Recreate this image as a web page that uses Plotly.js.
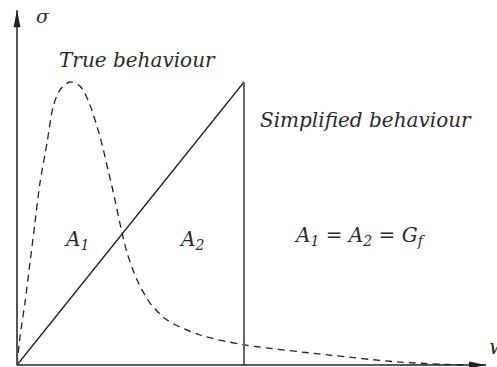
<!DOCTYPE html>
<html><head><meta charset="utf-8">
<script src="https://cdn.plot.ly/plotly-3.0.1.min.js"></script>
<style>html,body{margin:0;padding:0;background:#fff}#chart{width:497px;height:367px}</style>
</head><body><div id="chart"></div>
<script>
// True (softening) behaviour: crack opening w vs stress sigma (normalised)
const wTrue = [0, 0.13, 0.35, 0.57, 0.79, 1.01, 1.32, 1.59, 1.89, 2.33, 2.77, 3.13, 3.66, 4.01, 4.19, 4.63, 4.85, 5.29, 5.86, 6.61, 8.06, 10.04, 13.79, 16.74, 19.65];
const sigmaTrue = [0, 0.099, 0.219, 0.36, 0.502, 0.643, 0.784, 0.912, 0.972, 1.0, 0.986, 0.936, 0.806, 0.689, 0.629, 0.466, 0.396, 0.30, 0.219, 0.159, 0.106, 0.071, 0.035, 0.011, 0.0];
// Simplified (linear) behaviour
const wSimple = [0, 10];
const sigmaSimple = [0, 1];
const wDrop = [10, 10];
const sigmaDrop = [1, 0];
// Axis extents
const axisW = [0, 20.66];
const axisSigma = [0, 1.254];

const font = {family: 'DejaVu Serif', size: 20, color: '#2a2a2a'};

const traces = [
  {x: wTrue, y: sigmaTrue, mode: 'lines', line: {color: '#222', width: 1.3, dash: '7px,5px', shape: 'spline', smoothing: 0.8}, hoverinfo: 'skip'},
  {x: wSimple, y: sigmaSimple, mode: 'lines', line: {color: '#222', width: 1.3}, hoverinfo: 'skip'},
  {x: wDrop, y: sigmaDrop, mode: 'lines', line: {color: '#666', width: 2}, hoverinfo: 'skip'}
];

const shapes = [
  {type: 'line', x0: axisW[0], y0: axisSigma[0], x1: axisW[0], y1: axisSigma[1], line: {color: '#555', width: 2}},
  {type: 'line', x0: axisW[0], y0: axisSigma[0], x1: axisW[1], y1: axisSigma[0], line: {color: '#222', width: 1.6}},
  {type: 'path', xsizemode: 'pixel', ysizemode: 'pixel', xanchor: axisW[0], yanchor: axisSigma[1],
   path: 'M0,0 L-3.5,-17 L3.5,-17 Z', fillcolor: '#222', line: {width: 0}},
  {type: 'path', xsizemode: 'pixel', ysizemode: 'pixel', xanchor: axisW[1], yanchor: axisSigma[0],
   path: 'M0,0 L-17,-3.5 L-17,3.5 Z', fillcolor: '#222', line: {width: 0}}
];

const ann = (x, y, text, xanchor, size) => ({x, y, text, showarrow: false, xanchor: xanchor || 'center', yanchor: 'middle',
  font: Object.assign({}, font, {size: size || font.size})});

const annotations = [
  ann(0.75, 1.233, '<i>σ</i>', 'left', 19),
  ann(20.7, 0.064, '<i>w</i>', 'left', 21),
  ann(5.29, 1.078, '<i>True behaviour</i>'),
  ann(10.62, 0.866, '<i>Simplified behaviour</i>', 'left'),
  ann(2.64, 0.442, '<i>A<sub>1</sub></i>'),
  ann(7.67, 0.442, '<i>A<sub>2</sub></i>'),
  ann(12.11, 0.456, '<i>A<sub>1</sub> = A<sub>2</sub> = G<sub>f</sub></i>', 'left')
];

const layout = {
  width: 497, height: 367,
  margin: {l: 0, r: 0, t: 0, b: 0},
  paper_bgcolor: '#fff', plot_bgcolor: '#fff',
  showlegend: false,
  xaxis: {range: [-0.749, 21.145], visible: false, fixedrange: true},
  yaxis: {range: [-0.00707, 1.2898], visible: false, fixedrange: true},
  shapes, annotations
};

Plotly.newPlot('chart', traces, layout, {staticPlot: true, displayModeBar: false});
</script>
</body></html>
